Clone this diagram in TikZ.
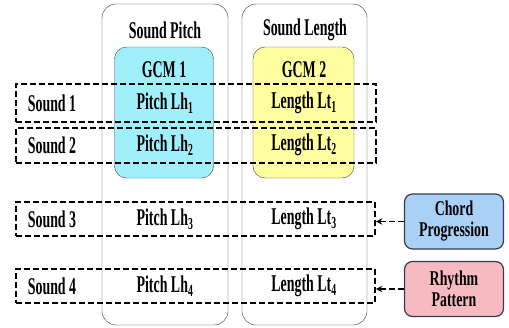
\documentclass[tikz,border=0pt]{standalone}
\usepackage{fontspec}
\setmainfont{Liberation Serif}[FakeStretch=0.58]
\newfontfamily\srcfont{Liberation Serif}[FakeStretch=0.66]
\usepackage{xcolor}
\definecolor{gcmcyan}{RGB}{160,240,252}
\definecolor{gcmyellow}{RGB}{255,255,160}
\definecolor{chordblue}{RGB}{170,208,246}
\definecolor{rhythmpink}{RGB}{246,186,192}
\definecolor{boxedge}{RGB}{55,60,80}
\tikzstyle{colbox}=[draw=black!80, rounded corners=14pt, minimum width=126pt, minimum height=321pt]
\tikzstyle{gcmbox}=[draw=black!75, rounded corners=12pt, minimum width=99pt, minimum height=131pt]
\tikzstyle{rowbox}=[draw, line width=1.8pt, dash pattern=on 6pt off 3pt, minimum width=360pt]
\tikzstyle{srcbox}=[draw=boxedge, line width=1.2pt, rounded corners=8pt, minimum width=99pt, minimum height=55pt, align=center, inner sep=0pt, font=\srcfont\bfseries\fontsize{21}{21}\selectfont]
\tikzstyle{txt}=[font=\bfseries\fontsize{24}{21}\selectfont, inner sep=1pt]

\begin{document}
\begin{tikzpicture}[x=1pt,y=-1pt]
      \useasboundingbox (0,0) rectangle (509,327);
      % the two columns
      \node [colbox] (pitchcol) at (165,164.5) {};
      \node [colbox,minimum width=125pt] (lengthcol) at (304.5,164.5) {};
      \node [txt] (pitchtitle) at (165,30) {Sound Pitch};
      \node [txt] (lengthtitle) at (305,30) {Sound Length};
      % GCM boxes
      \node [gcmbox,fill=gcmcyan] (gcma) at (164,112.5) {};
      \node [gcmbox,fill=gcmyellow,minimum width=101pt] (gcmb) at (303.5,112.5) {};
      \node [txt] (gcmatitle) at (164,70) {GCM 1};
      \node [txt] (gcmbtitle) at (304,70) {GCM 2};
      % sound rows
      \node [rowbox,minimum height=38pt] (sounda) at (196,103) {};
      \node [rowbox,minimum height=35pt] (soundb) at (196,145.5) {};
      \node [rowbox,minimum height=34pt,minimum width=359pt] (soundc) at (195.5,219) {};
      \node [rowbox,minimum height=34pt,minimum width=359pt] (soundd) at (195.5,286) {};
      \node [txt] (namea) at (52,103) {Sound 1};
      \node [txt] (nameb) at (52,145) {Sound 2};
      \node [txt] (namec) at (52,219) {Sound 3};
      \node [txt] (named) at (52,286) {Sound 4};
      \node [txt] (pitcha) at (165,103) {Pitch Lh\textsubscript{1}};
      \node [txt] (pitchb) at (165,145) {Pitch Lh\textsubscript{2}};
      \node [txt] (pitchc) at (165,219) {Pitch Lh\textsubscript{3}};
      \node [txt] (pitchd) at (165,286) {Pitch Lh\textsubscript{4}};
      \node [txt] (lengtha) at (304,103) {Length Lt\textsubscript{1}};
      \node [txt] (lengthb) at (304,145) {Length Lt\textsubscript{2}};
      \node [txt] (lengthc) at (304,219) {Length Lt\textsubscript{3}};
      \node [txt] (lengthd) at (304,286) {Length Lt\textsubscript{4}};
      % inputs
      \node [srcbox,fill=chordblue] (chord) at (454,221.5) {Chord\\Progression};
      \node [srcbox,fill=rhythmpink] (rhythm) at (454,289) {Rhythm\\Pattern};
      \draw [line width=1.8pt,dash pattern=on 6pt off 3pt,->,>=stealth] (chord) -- (soundc.east |- chord);
      \draw [line width=1.8pt,dash pattern=on 6pt off 3pt,->,>=stealth] (rhythm) -- (soundd.east |- rhythm);
    \end{tikzpicture}
\end{document}
